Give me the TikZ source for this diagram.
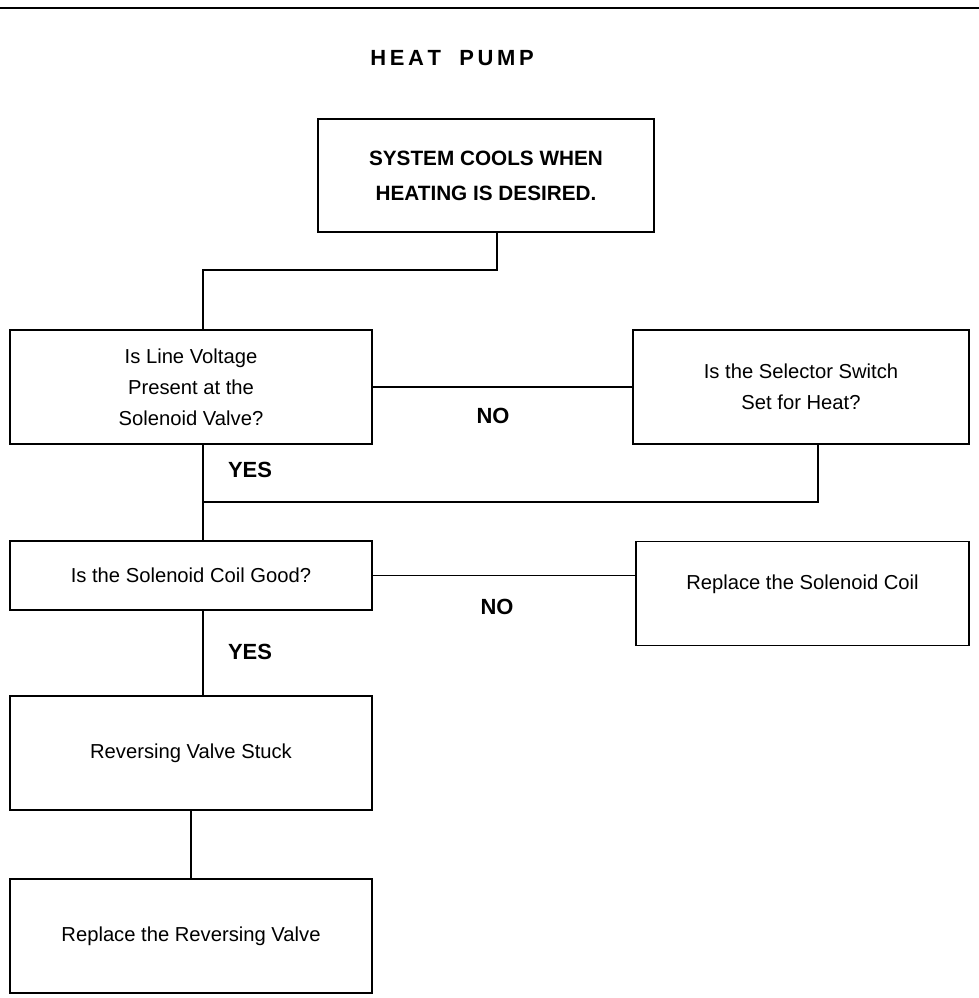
\documentclass[tikz,border=0pt]{standalone}
\usepackage{fontspec}
\setmainfont{Liberation Sans}
\usetikzlibrary{positioning}
\tikzset{box/.style={draw,thick,rectangle,align=center,inner sep=2pt,font=\fontsize{11.5}{17.6}\selectfont},
         lbl/.style={font=\fontsize{12.5}{15}\selectfont\bfseries}}
\begin{document}
\begin{tikzpicture}[x=0.02cm,y=-0.02cm]
            \useasboundingbox (0,0) rectangle (979,998);
            \draw[thick] (0,8) -- (979,8);
            \node at (452,58)   [lbl] (nTitle) {H\,E\,A\,T\ \ \ P\,U\,M\,P};
            \node at (486,175.5)[box,minimum width=6.72cm,minimum height=2.26cm,font=\fontsize{11.8}{20}\selectfont\bfseries] (nCool) {SYSTEM COOLS WHEN\\HEATING IS DESIRED.};
            \node at (191,387)  [box,minimum width=7.24cm,minimum height=2.28cm] (nVolt) {Is Line Voltage\\Present at the\\Solenoid Valve?};
            \node at (801,387)  [box,minimum width=6.72cm,minimum height=2.28cm] (nSel)  {Is the Selector Switch\\Set for Heat?};
            \node at (191,575.5)[box,minimum width=7.24cm,minimum height=1.38cm] (nCoil) {Is the Solenoid Coil Good?};
            \node at (802.5,541)[box,anchor=north,minimum width=6.66cm,inner ysep=0.66cm,text height=0.3cm,text depth=0.46cm] (nRepC) {Replace the Solenoid Coil};
            \node at (191,753)  [box,minimum width=7.24cm,minimum height=2.28cm] (nStuck){Reversing Valve Stuck};
            \node at (191,936)  [box,minimum width=7.24cm,minimum height=2.28cm] (nRepV) {Replace the Reversing Valve};
            \node at (493,416)  [lbl] (nNo1)  {NO};
            \node at (250,470)  [lbl] (nYes1) {YES};
            \node at (497,607)  [lbl] (nNo2)  {NO};
            \node at (250,652)  [lbl] (nYes2) {YES};
            \coordinate (cJoin) at (497,270);
            \coordinate (cSpine) at (203,502);
            \coordinate (cRet) at (818,502);
            \draw[thick] (cJoin |- nCool.south) -- (cJoin) -- (cSpine |- cJoin) -- (cSpine |- nVolt.north);
            \draw[thick] (nVolt.east) -- (nSel.west);
            \draw[thick] (cSpine |- nVolt.south) -- (cSpine |- nCoil.north);
            \draw[thick] (cRet |- nSel.south) -- (cRet) -- (cSpine);
            \draw[thick] (nCoil.east) -- (nCoil.east -| nRepC.west);
            \draw[thick] (cSpine |- nCoil.south) -- (cSpine |- nStuck.north);
            \draw[thick] (nStuck.south) -- (nRepV.north);
\end{tikzpicture}
\end{document}
